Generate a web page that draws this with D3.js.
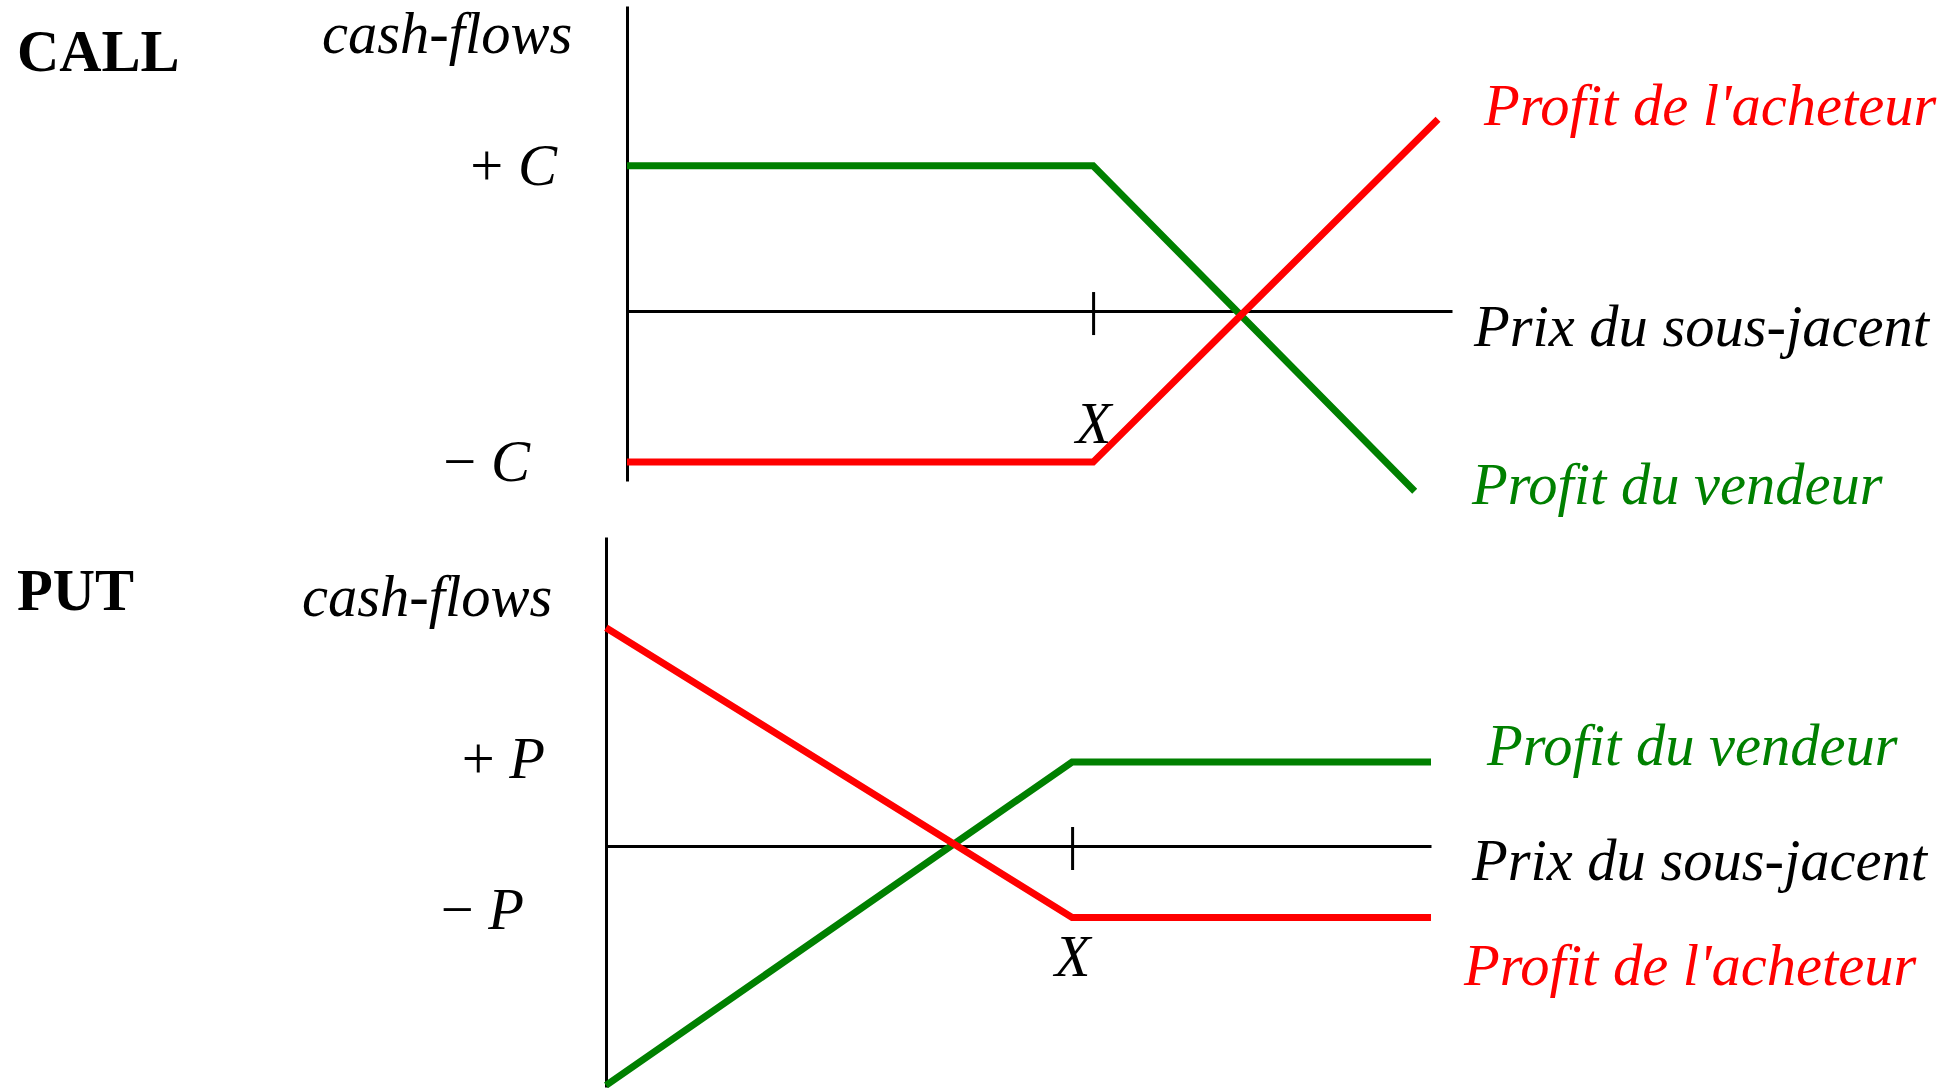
<!DOCTYPE html>
<html>
<head>
<meta charset="utf-8">
<script src="https://cdn.jsdelivr.net/npm/d3@7"></script>
<style>
  html, body { margin: 0; padding: 0; background: #fff; }
  svg { display: block; }
  text { font-family: "Liberation Serif", "Times New Roman", serif; font-size: 58.5px; }
</style>
</head>
<body>
<svg id="chart"></svg>
<script>
// Payoff diagrams, strike X = 100, premiums expressed in units of C / P
const strike = 100;

const callBuyer = [[0, -1.04], [100, -1.04], [174, 1.32]];
const callSeller = [[0, 1], [100, 1], [169, -1.24]];
const callLevels = [1, -1.04];
const callLevelSigns = ['+', '\u2212'];

const putBuyer = [[0, 2.6], [100, -0.85], [177, -0.85]];
const putSeller = [[0, -2.85], [100, 1], [177, 1]];
const putLevels = [1, -0.85];
const putLevelSigns = ['+', '\u2212'];

const seriesLabels = ["Profit de l'acheteur", 'Profit du vendeur'];
const axisLabel = 'Prix du sous-jacent';
const yLabel = 'cash-flows';

const RED = '#ff0000';
const GREEN = '#008000';

const width = 1959, height = 1088;
const svg = d3.select('#chart').attr('width', width).attr('height', height)
  .attr('viewBox', `0 0 ${width} ${height}`);

const panels = [
  {
    title: 'CALL', letter: 'C', buyer: callBuyer, seller: callSeller,
    levels: callLevels, signs: callLevelSigns,
    xDomain: [0, 177], xRange: [627, 1452],
    yDomain: [-1.17, 2.1], yRange: [481, 6],
    titleY: 71, yLabelPos: [322, 53], levelRight: [557, 530], levelDy: [19, 19],
    buyerLabel: [1484, 125], sellerLabel: [1472, 504], axisLabelPos: [1474, 346],
    xLabelPad: 66
  },
  {
    title: 'PUT', letter: 'P', buyer: putBuyer, seller: putSeller,
    levels: putLevels, signs: putLevelSigns,
    xDomain: [0, 177], xRange: [606, 1431],
    yDomain: [-2.87, 3.68], yRange: [1087, 537],
    titleY: 610, yLabelPos: [302, 616], levelRight: [545, 524], levelDy: [16, 12],
    buyerLabel: [1464, 985], sellerLabel: [1487, 765], axisLabelPos: [1472, 880],
    xLabelPad: 64
  }
];

panels.forEach(p => {
  const x = d3.scaleLinear().domain(p.xDomain).range(p.xRange);
  const y = d3.scaleLinear().domain(p.yDomain).range(p.yRange);
  const g = svg.append('g');

  // Title
  g.append('text')
    .attr('x', 17).attr('y', p.titleY)
    .attr('font-weight', 'bold')
    .text(p.title);

  // y label
  g.append('text')
    .attr('x', p.yLabelPos[0]).attr('y', p.yLabelPos[1])
    .attr('font-style', 'italic')
    .text(yLabel);

  // Vertical axis
  const yAxis = g.append('g')
    .attr('transform', `translate(${x(0)},0)`)
    .call(d3.axisLeft(y).tickValues([]).tickSizeOuter(0));
  yAxis.select('.domain').attr('stroke', '#000').attr('stroke-width', 3);

  // Horizontal axis with strike tick
  const xAxis = g.append('g')
    .attr('transform', `translate(0,${y(0)})`)
    .call(d3.axisBottom(x).tickValues([strike]).tickSize(24).tickSizeOuter(0)
      .tickPadding(p.xLabelPad).tickFormat(() => 'X'));
  xAxis.select('.domain').attr('stroke', '#000').attr('stroke-width', 3);
  xAxis.selectAll('.tick line').attr('y1', -19).attr('stroke', '#000').attr('stroke-width', 3);
  xAxis.selectAll('.tick text')
    .attr('font-family', '"Liberation Serif", "Times New Roman", serif')
    .attr('font-size', 58.5)
    .attr('font-style', 'italic')
    .attr('fill', '#000');

  // Premium levels
  p.levels.forEach((v, i) => {
    const t = g.append('text')
      .attr('x', p.levelRight[i]).attr('y', y(v) + p.levelDy[i])
      .attr('text-anchor', 'end');
    t.append('tspan').text(p.signs[i] + ' ');
    t.append('tspan').attr('font-style', 'italic').text(p.letter);
  });

  const line = d3.line().x(d => x(d[0])).y(d => y(d[1]));

  g.append('path').datum(p.seller)
    .attr('d', line).attr('fill', 'none')
    .attr('stroke', GREEN).attr('stroke-width', 7);
  g.append('path').datum(p.buyer)
    .attr('d', line).attr('fill', 'none')
    .attr('stroke', RED).attr('stroke-width', 7);

  // Right side labels
  g.append('text')
    .attr('x', p.buyerLabel[0]).attr('y', p.buyerLabel[1])
    .attr('font-style', 'italic').attr('fill', RED)
    .text(seriesLabels[0]);
  g.append('text')
    .attr('x', p.sellerLabel[0]).attr('y', p.sellerLabel[1])
    .attr('font-style', 'italic').attr('fill', GREEN)
    .text(seriesLabels[1]);
  g.append('text')
    .attr('x', p.axisLabelPos[0]).attr('y', p.axisLabelPos[1])
    .attr('font-style', 'italic').attr('fill', '#000')
    .text(axisLabel);
});
</script>
</body>
</html>
